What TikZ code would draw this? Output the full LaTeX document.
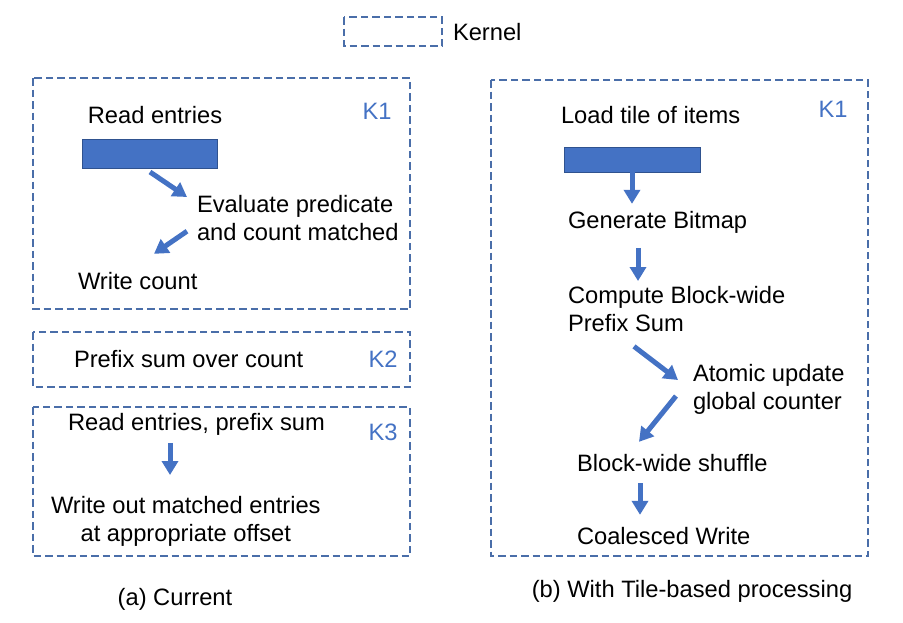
\documentclass[tikz,border=0pt]{standalone}
\usepackage{fontspec}
\setmainfont{Liberation Sans}
\usetikzlibrary{arrows.meta,calc}

\definecolor{kblue}{HTML}{4472C4}
\definecolor{kedge}{HTML}{2F528F}
\definecolor{kdash}{HTML}{4A6EA9}

\tikzset{every picture/.style={line width=0.75pt}}
\tikzset{
  txt/.style={inner sep=0pt,outer sep=0pt,font=\fontsize{23.7}{28}\selectfont},
  klabel/.style={txt,text=kblue},
  kbox/.style={draw=kdash,line width=1.3pt,dash pattern=on 7.5pt off 4pt},
  tilebar/.style={draw=kedge,line width=0.8pt,fill=kblue,inner sep=0pt,outer sep=0pt},
  flow/.style={draw=kblue,line width=5pt,-{Triangle[length=14pt,width=16pt]}}
}

\begin{document}
\begin{tikzpicture}[x=1pt,y=1pt,yscale=-1]
		\useasboundingbox (0,0) rectangle (903,622);

		%Shape: Rectangle [legend]
		\draw[kbox] (344,17) rectangle (442,46);
		% Text Node
		\node[txt,anchor=base west] (kernel) at (453,40) {Kernel};

		%Shape: Rectangle [left K1]
		\draw[kbox] (33,78) rectangle (410,309);
		%Shape: Rectangle [left K2]
		\draw[kbox] (33,332) rectangle (410,387);
		%Shape: Rectangle [left K3]
		\draw[kbox] (33,407) rectangle (410,556);
		%Shape: Rectangle [right K1]
		\draw[kbox] (491,80) rectangle (868,556);

		% Text Node
		\node[klabel,anchor=base] (kaone) at (377,119) {K1};
		\node[klabel,anchor=base] (katwo) at (383,367) {K2};
		\node[klabel,anchor=base] (kathree) at (383,440) {K3};
		\node[klabel,anchor=base] (kbone) at (833,117) {K1};

		% Left: current
		\node[txt,anchor=base] (readent) at (155,123) {Read entries};
		\node[tilebar,minimum width=135pt,minimum height=29pt] (barA) at (149.5,153.5) {};
		\node[txt,anchor=north west,align=left] (evalpred) at (197,195) {Evaluate predicate\\and count matched};
		\node[txt,anchor=base west] (wcount) at (78,289) {Write count};
		\node[txt,anchor=base west] (prefsum) at (74,367) {Prefix sum over count};
		\node[txt,anchor=base west] (readpref) at (68,430) {Read entries, prefix sum};
		\node[txt,anchor=north west,align=center] (writeout) at (51,496) {Write out matched entries\\at appropriate offset};
		\node[txt,anchor=base] (capA) at (175,605) {(a) Current};

		\draw[flow] ($(barA.south)+(0.5,4)$) -- ($(evalpred.north west)+(-10,2)$);
		\draw[flow] ($(evalpred.west)+(-10,13.5)$) -- ($(wcount.north west)+(76,-18)$);
		\draw[flow] ($(readpref.south west)+(102,8)$) -- ($(writeout.north west)+(119,-21)$);

		% Right: tile-based
		\node[txt,anchor=base west] (loadtile) at (561,123) {Load tile of items};
		\node[tilebar,minimum width=136pt,minimum height=25pt] (barB) at (632,159.5) {};
		\node[txt,anchor=base west] (genbit) at (568,228) {Generate Bitmap};
		\node[txt,anchor=north west,align=left] (blockpref) at (568,286) {Compute Block-wide\\Prefix Sum};
		\node[txt,anchor=north west,align=left] (atomic) at (693,364) {Atomic update\\global counter};
		\node[txt,anchor=base west] (shuffle) at (577,471) {Block-wide shuffle};
		\node[txt,anchor=base west] (coalesce) at (577,544) {Coalesced Write};
		\node[txt,anchor=base] (capB) at (692,597) {(b) With Tile-based processing};

		\draw[flow] (barB.south) -- ($(genbit.north west)+(64,-7)$);
		\draw[flow] ($(genbit.south west)+(70,15)$) -- ($(blockpref.north west)+(70,-5)$);
		\draw[flow] ($(blockpref.south west)+(66,15)$) -- ($(atomic.north west)+(-15,16)$);
		\draw[flow] ($(atomic.west)+(-17,7)$) -- ($(shuffle.north west)+(62,-12)$);
		\draw[flow] ($(shuffle.south west)+(63,12)$) -- ($(coalesce.north west)+(63,-12)$);

		\end{tikzpicture}
\end{document}
